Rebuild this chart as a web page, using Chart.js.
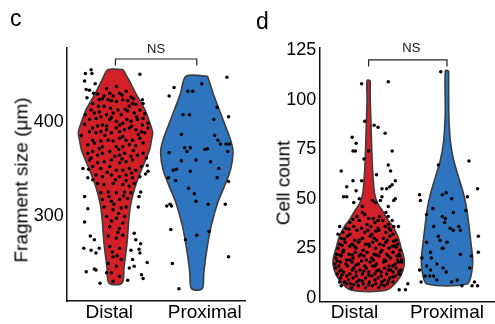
<!DOCTYPE html>
<html>
<head>
<meta charset="utf-8">
<script src="https://cdn.jsdelivr.net/npm/chart.js@4.4.1/dist/chart.umd.min.js"></script>
<style>
  html, body { margin: 0; padding: 0; background: #fff; }
  body { width: 495px; height: 324px; overflow: hidden; position: relative;
         font-family: "Liberation Sans", Arial, sans-serif; color: #000; }
  canvas { position: absolute; top: 0; }
  #chartC { left: 0; }
  #chartD { left: 250px; }
  .panel { position: absolute; font-size: 23px; line-height: 1; }
  .ytitle { position: absolute; font-size: 19px; line-height: 1; white-space: nowrap;
            transform: translate(-50%, -50%) rotate(-90deg); }
</style>
</head>
<body>
<canvas id="chartC" width="250" height="324"></canvas>
<canvas id="chartD" width="248" height="324"></canvas>
<div class="panel" style="left:10px;top:7px">c</div>
<div class="panel" style="left:256px;top:10px">d</div>
<div class="ytitle" style="left:20.5px;top:180px">Fragment size (μm)</div>
<div class="ytitle" style="left:282.5px;top:182.5px">Cell count</div>
<script>
const categories = ["Distal", "Proximal"]
// where the category names sit on the x axis (a bit off the violin centres)
const labelPosC = [0.923, 2.097]
const labelPosD = [0.82, 2.0]
const ticksC = [300, 400]
const ticksD = [0, 25, 50, 75, 100, 125]

// violin outlines: levels (data value) and half widths (x units)
const distalSizeLevels = [456, 445, 431, 413, 400, 389, 380, 371, 360, 350, 331, 314, 300, 272, 246, 229]
const distalSizeWidths = [0.093, 0.165, 0.247, 0.364, 0.42, 0.457, 0.44, 0.42, 0.37, 0.321, 0.24, 0.19, 0.167, 0.142, 0.105, 0.08]
const proximalSizeLevels = [449, 431, 413, 395, 380, 368, 350, 331, 314, 289, 261, 240, 223]
const proximalSizeWidths = [0.132, 0.2, 0.277, 0.357, 0.42, 0.445, 0.416, 0.335, 0.255, 0.175, 0.117, 0.086, 0.065]
const distalCountLevels = [109.6, 100, 86, 69.5, 61, 52.7, 47.7, 44.3, 39.2, 35.9, 30.8, 25.8, 19, 14, 8.9, 3.9]
const distalCountWidths = [0.02, 0.02, 0.031, 0.044, 0.056, 0.075, 0.113, 0.17, 0.246, 0.31, 0.375, 0.41, 0.455, 0.44, 0.375, 0.23]
const proximalCountLevels = [114.5, 94.8, 86.4, 78, 69.5, 61.1, 52.7, 44.3, 35.9, 27.5, 19, 12.3, 6.9]
const proximalCountWidths = [0.021, 0.022, 0.029, 0.046, 0.084, 0.146, 0.209, 0.254, 0.281, 0.306, 0.328, 0.313, 0.256]

// jittered observations: [offset from category centre, value]
const distalSize = [
  [-0.37,452],[-0.30,456],[-0.29,452],[-0.38,444],[-0.25,441],[-0.36,435],[-0.32,434],[-0.27,431],[-0.35,426],
  [0.30,451],[0.33,424],[0.34,420],[-0.40,351],[0.39,354],[0.40,348],[-0.34,341],[-0.33,350],[0.37,345],
  [-0.38,321],[-0.34,308],[0.31,326],[0.29,321],[0.28,310],[-0.38,294],[-0.31,279],[-0.26,275],[-0.39,266],
  [-0.30,264],[-0.24,261],[-0.20,266],[0.23,282],[0.25,275],[0.31,271],[0.29,265],[0.19,264],[0.30,261],
  [0.39,251],[0.21,254],[-0.36,241],[-0.26,244],[-0.24,243],[-0.11,240],[-0.19,229],[0.32,238],[0.34,234],
  [0.23,247],[0.17,245],[0.15,232],
  [-0.20,424],[-0.16,425],[-0.09,424],[-0.05,423],[0.01,422],[0.09,424],[0.15,423],[0.19,427],[0.21,420],
  [0.25,419],[-0.21,417],[-0.14,417],[-0.03,428],[0.05,431],[-0.07,431],[0.13,433],[0.01,438],[-0.11,436],
  [-0.30,413],[-0.26,410],[-0.32,403],[-0.24,404],[-0.18,406],[-0.11,408],[-0.03,410],[0.03,413],[0.07,408],
  [0.15,412],[0.23,410],[0.30,413],[0.34,404],[0.40,399],[0.27,403],[0.19,401],[0.09,399],[0.01,401],
  [-0.07,403],[-0.16,397],[-0.22,396],[-0.28,394],
  [-0.32,390],[-0.24,389],[-0.18,390],[-0.11,392],[-0.05,389],[0.01,394],[0.05,390],[0.11,392],[0.17,394],
  [0.25,392],[0.32,390],[0.36,389],[0.40,394],[0.30,383],[0.21,381],[0.13,381],[0.05,383],[-0.03,380],
  [-0.09,381],[-0.18,380],[-0.26,378],[-0.34,376],[-0.28,381],[-0.16,374],[0.01,374],[0.09,374],[0.17,376],
  [0.25,375],[0.34,378],
  [-0.34,367],[-0.28,369],[-0.22,365],[-0.16,367],[-0.07,369],[-0.01,364],[0.05,365],[0.11,367],[0.19,364],
  [0.27,365],[0.34,367],[0.21,360],[0.13,358],[0.05,357],[-0.05,360],[-0.14,358],[-0.22,357],[-0.28,353],
  [-0.18,351],[-0.07,353],[0.01,349],[0.09,349],[0.17,351],[0.25,349],[0.32,353],[-0.32,360],[0.38,362],
  [-0.24,344],[-0.16,342],[-0.05,344],[0.05,342],[0.13,344],[0.21,341],[0.30,342],[-0.22,335],[-0.14,334],
  [-0.03,335],[0.09,334],[0.17,332],[0.23,335],[-0.18,325],[-0.09,326],[0.01,325],[0.11,326],[0.19,325],
  [-0.16,318],[-0.05,316],[0.05,318],[0.15,319],
  [-0.14,310],[-0.03,307],[0.07,309],[0.13,310],[-0.11,300],[0.01,298],[0.11,300],[-0.07,289],[0.05,287],
  [0.09,293],[-0.09,279],[0.01,277],[0.09,280],[-0.07,268],[0.05,266],[-0.03,257],[0.07,254],[-0.09,250],
  [0.01,247],[-0.05,240],[0.05,236],[-0.03,231],
  [-0.22,430],[-0.14,428],[0.08,429],[0.22,425],[-0.28,420],[0.17,417],[-0.06,415],[0.12,414],[-0.37,408],
  [0.36,409],[-0.20,411],[0.26,406],[-0.05,405],[0.14,403],[-0.38,398],[0.33,397],[-0.11,396],[0.05,397],
  [0.20,396],[-0.42,386],[0.28,387],[-0.13,386],[0.09,385],[-0.20,372],[0.04,371],[0.22,370],[-0.30,362],
  [0.08,361],[-0.10,347],[0.20,346],[-0.28,339],[0.00,339],[0.13,338],[-0.08,321],[0.10,322],[-0.02,313],
  [0.04,303],[-0.05,295],[0.03,283],[-0.04,262],[0.02,258]
]
const proximalSize = [
  [0.37,448],[-0.28,437],[0.06,441],[-0.34,428],[-0.11,433],[-0.05,433],[-0.17,408],[-0.09,408],[0.25,416],
  [0.21,403],[0.39,406],[-0.19,387],[0.22,386],[0.26,381],[0.29,377],[0.36,377],[0.40,377],[0.38,369],
  [-0.15,373],[-0.08,373],[-0.12,369],[-0.34,368],[0.10,371],[0.13,372],[-0.19,359],[-0.01,360],[0.17,358],
  [-0.25,350],[-0.29,349],[0.27,351],[-0.08,348],[-0.35,341],[-0.26,338],[0.25,341],[0.39,337],[-0.10,330],
  [-0.03,324],[-0.01,316],[0.14,313],[0.35,313],[-0.37,311],[-0.33,313],[-0.31,311],[-0.32,286],[0.15,284],
  [0.00,280],[-0.14,275],[0.39,257],[-0.30,250],[-0.22,223]
]
const distalCount = [
  [-0.09,108],[0.25,109],[-0.05,89],[0.07,87],[0.12,86],[0.21,83],[-0.21,81],[-0.16,78],[-0.2,74],[-0.17,74],
  [-0.06,70],[0,74],[0.3,74],[-0.35,64],[0.25,67],[0.28,64],[0.1,62],[-0.2,59],[-0.28,56],[-0.09,59],
  [-0.16,54],[-0.32,51],[-0.28,51],[-0.19,48],[0.17,55],[0.23,55],[0.27,56],[0.3,57],[0.34,59],[0.17,51],
  [0.15,49],[0.32,49],[0.34,50],[0.25,46],[0.22,43],[0.25,41],[0.3,39],[0.32,36],[0.38,36],[-0.08,46],
  [-0.08,43],[0.05,49],[0.09,48],[-0.12,50],[0.38,18],[0.4,12],[0.5,7],[0.47,4],[0.39,4],[-0.37,36],
  [-0.39,32],[-0.37,8],[-0.35,6],
  [-0.15,41],[-0.05,42],[0.06,40],[0.14,41],
  [-0.24,38],[-0.12,39],[-0.02,37],[0.08,38],[0.18,39],[0.25,37],
  [-0.29,35],[-0.19,36],[-0.09,35],[0.03,36],[0.12,35],[0.21,36],[0.28,34],
  [-0.33,33],[-0.24,32],[-0.15,34],[-0.05,33],[0.04,32],[0.13,34],[0.22,33],[0.31,32],
  [-0.35,30],[-0.27,31],[-0.18,29],[-0.08,30],[0.02,31],[0.1,29],[0.19,30],[0.27,31],[0.35,29],
  [-0.37,27],[-0.3,28],[-0.21,27],[-0.13,28],[-0.04,27],[0.05,28],[0.14,27],[0.22,28],[0.3,26],[0.37,27],
  [-0.39,25],[-0.32,24],[-0.24,26],[-0.16,25],[-0.07,24],[0.01,26],[0.09,25],[0.17,24],[0.26,25],[0.33,26],[0.4,24],
  [-0.41,22],[-0.33,23],[-0.25,22],[-0.17,23],[-0.1,22],[-0.02,23],[0.07,22],[0.15,23],[0.23,22],[0.31,23],[0.39,22],
  [-0.42,20],[-0.35,21],[-0.28,19],[-0.2,20],[-0.12,21],[-0.03,19],[0.04,20],[0.13,21],[0.2,19],[0.28,20],[0.36,21],[0.42,19],
  [-0.43,17],[-0.36,18],[-0.29,17],[-0.21,18],[-0.13,17],[-0.05,16],[0.02,18],[0.1,17],[0.19,18],[0.26,16],[0.34,17],[0.42,18],
  [-0.42,15],[-0.35,14],[-0.27,16],[-0.19,15],[-0.11,14],[-0.03,15],[0.05,16],[0.13,14],[0.2,15],[0.28,14],[0.35,15],[0.41,14],
  [-0.4,12],[-0.32,13],[-0.24,12],[-0.16,13],[-0.08,12],[0.0,13],[0.08,12],[0.16,13],[0.23,12],[0.31,13],[0.38,12],
  [-0.36,10],[-0.28,11],[-0.2,10],[-0.12,9],[-0.04,10],[0.04,11],[0.12,10],[0.2,9],[0.27,10],[0.34,11],
  [-0.31,8],[-0.23,7],[-0.15,8],[-0.07,7],[0.01,8],[0.09,7],[0.17,8],[0.24,7],[0.31,8],
  [-0.22,5],[-0.13,6],[-0.04,5],[0.05,6],[0.13,5],[0.2,6],
  [-0.2,39.5],[0.0,40],[0.12,39],[-0.25,34.5],[-0.01,34],[0.09,33.5],[0.26,35],
  [-0.31,29.5],[-0.12,29],[0.07,30],[0.24,29],[0.32,28.5],[-0.34,26.5],[-0.18,26],[0.0,27],[0.19,26.5],[0.35,25.5],
  [-0.37,21.5],[-0.21,21.5],[-0.06,21],[0.1,21.5],[0.25,21],[0.4,21],
  [-0.4,18.5],[-0.24,19],[-0.09,18.5],[0.06,19],[0.22,18.5],[0.37,19],
  [-0.38,16],[-0.16,16.5],[0.08,16],[0.31,16],
  [-0.37,13.5],[-0.21,14],[-0.06,13.5],[0.1,13.5],[0.25,14],[0.39,13.5],
  [-0.34,11.5],[-0.16,11],[0.0,11.5],[0.16,11],[0.31,10.5],
  [-0.26,9],[-0.08,8.5],[0.08,9],[0.25,8.5],[-0.19,6.5],[0.0,6.5],[0.16,6.5],[-0.28,7]
]
const proximalCount = [
  [-0.08,114],[-0.11,67],[0.28,69],[0.39,55],[-0.35,52],[-0.34,49],[-0.06,52],[-0.01,53],[0.06,50],[0.26,51],
  [-0.18,45],[0.24,44],[-0.26,42],[0.08,43],[-0.06,41],[-0.02,40],[-0.03,38],[-0.17,36],[0.15,36],[0.04,35],
  [0.08,34],[0.17,34],[0.4,31],[-0.11,31],[-0.09,29],[0,28],[-0.26,28],[-0.05,25],[-0.06,25],[0.4,23],
  [-0.21,23],[-0.2,20],[0.17,22],[-0.32,20],[-0.13,17],[0.31,21],[-0.05,15],[-0.01,13],[-0.26,16],[-0.35,14],
  [-0.21,14],[-0.28,11],[-0.22,11],[-0.17,11],[-0.13,9],[-0.33,8],[0.06,8],[0.13,9],[0.19,6],[0.29,15],
  [0.32,6],[0.35,8],[0.39,6]
]

const RED = "#D12027"
const BLUE = "#2E74BF"
const OUTLINE = "#3d3d3d"
Chart.defaults.font.family = '"Liberation Sans", Arial, sans-serif'

// right side top->bottom, then left side bottom->top, closed
function outline(center, levels, widths) {
  const right = levels.map((v, i) => ({ x: center + widths[i], y: v }))
  const left = levels.map((v, i) => ({ x: center - widths[i], y: v })).reverse()
  return right.concat(left, [right[0]])
}

function jitter(center, pts) {
  return pts.map((p) => ({ x: center + p[0], y: p[1] }))
}

function violin(data, color) {
  return {
    type: "line", data: data, fill: "shape", backgroundColor: color,
    borderColor: OUTLINE, borderWidth: 1.6, pointRadius: 0, tension: 0.3, order: 3,
  }
}

function dots(data) {
  return {
    type: "scatter", data: data, pointRadius: 1.75, pointBackgroundColor: "#000",
    pointBorderWidth: 0, order: 0,
  }
}

const nsLabel = {
  id: "nsLabel",
  afterDatasetsDraw(chart, args, opts) {
    const { ctx, scales: { x, y } } = chart
    ctx.save()
    ctx.font = '13px "Liberation Sans", Arial, sans-serif'
    ctx.fillStyle = "#111"
    ctx.textAlign = "center"
    ctx.textBaseline = "middle"
    ctx.fillText("NS", x.getPixelForValue(opts.at), y.getPixelForValue(opts.value) - opts.lift)
    ctx.restore()
  },
}

function makePanel(id, p) {
  new Chart(document.getElementById(id), {
    type: "scatter",
    data: {
      datasets: [
        dots(jitter(1, p.distal)),
        dots(jitter(2, p.proximal)),
        {
          type: "line",
          data: [{ x: 1, y: p.bracket[0] }, { x: 1, y: p.bracket[1] }, { x: 2, y: p.bracket[1] }, { x: 2, y: p.bracket[0] }],
          borderColor: "#222", borderWidth: 1.2, pointRadius: 0, fill: false, tension: 0, order: 1, clip: false,
        },
        violin(outline(1, p.dLevels, p.dWidths), RED),
        violin(outline(2, p.pLevels, p.pWidths), BLUE),
      ],
    },
    plugins: [nsLabel],
    options: {
      responsive: false,
      animation: false,
      events: [],
      layout: { padding: { top: 48, right: p.rightPad, left: 0, bottom: 0 } },
      plugins: {
        legend: { display: false },
        tooltip: { enabled: false },
        nsLabel: { at: p.nsAt, value: p.bracket[1], lift: p.nsLift },
      },
      scales: {
        x: {
          type: "linear", min: p.xMin, max: 2.6,
          grid: { display: false, drawTicks: false },
          border: { display: true, color: "#111", width: 1.5 },
          afterBuildTicks: (s) => { s.ticks = p.labelPos.map((v) => ({ value: v })) },
          afterFit: (s) => { s.height = p.xHeight },
          ticks: {
            callback: (v, i) => categories[i], color: "#000", font: { size: 19 },
            padding: 0, maxRotation: 0, autoSkip: false,
          },
        },
        y: {
          type: "linear", min: p.yMin, max: p.yMax,
          grid: { display: false, drawTicks: false },
          border: { display: true, color: "#111", width: 1.5 },
          afterBuildTicks: (s) => { s.ticks = p.yTicks.map((v) => ({ value: v })) },
          afterFit: (s) => { s.width = p.yWidth },
          ticks: { color: "#000", font: { size: 18 }, padding: 3 },
        },
      },
    },
  })
}

makePanel("chartC", {
  distal: distalSize, proximal: proximalSize,
  dLevels: distalSizeLevels, dWidths: distalSizeWidths,
  pLevels: proximalSizeLevels, pWidths: proximalSizeWidths,
  bracket: [460.5, 467.3], nsAt: 1.5, nsLift: 9.5,
  labelPos: labelPosC, yTicks: ticksC,
  xMin: 0.4, yMin: 210, yMax: 479, yWidth: 66.7, xHeight: 23, rightPad: 4.4,
})

makePanel("chartD", {
  distal: distalCount, proximal: proximalCount,
  dLevels: distalCountLevels, dWidths: distalCountWidths,
  pLevels: proximalCountLevels, pWidths: proximalCountWidths,
  bracket: [116.7, 120], nsAt: 1.545, nsLift: 11.5,
  labelPos: labelPosD, yTicks: ticksD,
  xMin: 0.37, yMin: -2, yMax: 126, yWidth: 69.3, xHeight: 22.3, rightPad: 0,
})
</script>
</body>
</html>
